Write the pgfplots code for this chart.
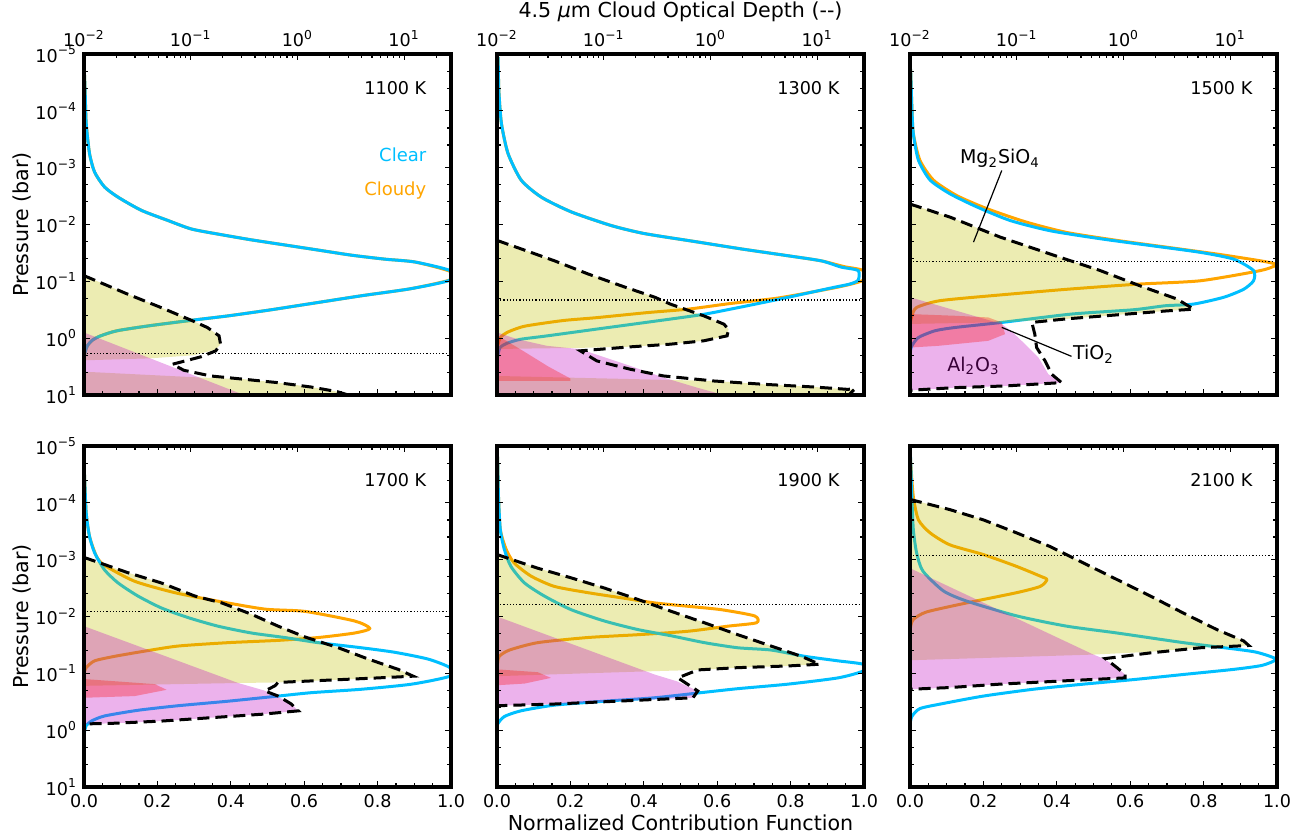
\documentclass[border=0pt]{standalone}
\usepackage{fontspec}
\setmainfont{DejaVu Sans}
\usepackage{pgfplots}
\pgfplotsset{compat=1.18}
\definecolor{clearc}{RGB}{0,191,255}
\definecolor{cloudc}{RGB}{255,165,0}
\definecolor{mgc}{rgb}{0.75,0.75,0}
\definecolor{alc}{rgb}{0.75,0,0.75}
\definecolor{tic}{rgb}{1,0,0}
\definecolor{altext}{rgb}{0.22,0,0.22}
\newcommand{\tfs}{\fontsize{8.8}{10.5}\selectfont}
\newcommand{\lfs}{\fontsize{10.3}{12}\selectfont}
\newcommand{\afs}{\fontsize{9.5}{11}\selectfont}
\pgfplotsset{
  base/.style={scale only axis, width=183.5pt, height=170.5pt, anchor=north west},
  main/.style={base, xmin=0, xmax=1, ymin=-5, ymax=1, y dir=reverse, axis on top,
    xtick={0,0.2,0.4,0.6,0.8,1}, minor x tick num=3, xtick pos=left, ytick pos=both,
    ytick={-5,-4,-3,-2,-1,0,1},
    minor ytick={-4.699,-4.398,-3.699,-3.398,-2.699,-2.398,-1.699,-1.398,-0.699,-0.398,0.301,0.602},
    xticklabels={}, yticklabels={},
    tick align=inside, major tick length=3pt, minor tick length=2pt,
    every tick/.append style={black, line width=0.6pt},
    axis line style={line width=2pt},
    tick label style={font=\tfs}},
  topax/.style={base, xmin=0.01, xmax=27.5, ymin=0, ymax=1, hide y axis,
    xtick pos=right, xticklabel pos=right, xtick={0.01,0.1,1,10},
    minor xtick={0.02,0.03,0.04,0.05,0.06,0.07,0.08,0.09,0.2,0.3,0.4,0.5,0.6,0.7,0.8,0.9,2,3,4,5,6,7,8,9,20},
    xticklabels={}, tick align=inside, major tick length=3pt, minor tick length=2pt,
    every tick/.append style={black, line width=0.6pt},
    axis line style={line width=2pt}, tick label style={font=\tfs}},
  ylabs/.style={yticklabels={10\textsuperscript{−5},10\textsuperscript{−4},10\textsuperscript{−3},10\textsuperscript{−2},10\textsuperscript{−1},10\textsuperscript{0},10\textsuperscript{1}},
     ylabel={Pressure (bar)}, ylabel style={at={(axis description cs:-0.169,0.5)}, anchor=center, font=\lfs}},
  xlabs/.style={xticklabels={0.0,0.2,0.4,0.6,0.8,1.0}},
  toplabs/.style={xticklabels={10\textsuperscript{−2},10\textsuperscript{−1},10\textsuperscript{0},10\textsuperscript{1}}},
  clr/.style={color=clearc, line width=1.5pt, line join=round, no marks, smooth, tension=0.4},
  cld/.style={color=cloudc, line width=1.5pt, line join=round, no marks, smooth, tension=0.4},
  tot/.style={black, line width=1.5pt, dash pattern=on 6pt off 3pt, no marks},
  dotl/.style={black, line width=0.6pt, dash pattern=on 0.6pt off 1pt, no marks},
  mgf/.style={draw=none, fill=mgc, fill opacity=0.3, no marks},
  alf/.style={draw=none, fill=alc, fill opacity=0.3, no marks},
  tif/.style={draw=none, fill=tic, fill opacity=0.3, no marks},
}
\begin{document}
\begin{tikzpicture}
\path[use as bounding box] (0,0) rectangle (654.5pt,-419pt);
% ---------------- Panel 1: 1100 K
\begin{axis}[main, ylabs, at={(42pt,-27pt)}]
\addplot[cld] coordinates {(0,-4.85) (0.001,-4.69) (0.003,-4.36) (0.006,-3.78) (0.015,-3.25) (0.029,-2.92) (0.056,-2.66) (0.093,-2.48) (0.156,-2.25) (0.229,-2.07) (0.293,-1.92) (0.375,-1.82) (0.456,-1.73) (0.547,-1.64) (0.638,-1.55) (0.729,-1.46) (0.82,-1.39) (0.902,-1.34) (1.0,-1.17) (1.0,-1.03) (0.89,-0.87) (0.76,-0.75) (0.62,-0.61) (0.50,-0.49) (0.39,-0.39) (0.30,-0.32) (0.18,-0.22) (0.09,-0.13) (0.045,-0.04) (0.023,0.035) (0.009,0.135) (0.003,0.25) (0,0.35)};
\addplot[clr] coordinates {(0,-4.85) (0.001,-4.69) (0.003,-4.36) (0.006,-3.78) (0.015,-3.25) (0.029,-2.92) (0.056,-2.66) (0.093,-2.48) (0.156,-2.25) (0.229,-2.07) (0.293,-1.92) (0.375,-1.82) (0.456,-1.73) (0.547,-1.64) (0.638,-1.55) (0.729,-1.46) (0.82,-1.39) (0.902,-1.34) (0.997,-1.19) (0.997,-1.02) (0.89,-0.87) (0.76,-0.75) (0.62,-0.61) (0.50,-0.49) (0.39,-0.39) (0.30,-0.32) (0.18,-0.22) (0.09,-0.13) (0.045,-0.04) (0.023,0.035) (0.009,0.135) (0.003,0.25) (0,0.35)};
\addplot[mgf] coordinates {(0,-1.10) (0.118,-0.777) (0.209,-0.541) (0.291,-0.318) (0.336,-0.188) (0.368,-0.041) (0.372,0.106) (0.359,0.20) (0.30,0.30) (0.18,0.355) (0,0.39)} --cycle;
\addplot[mgf] coordinates {(0,0.59) (0.31,0.69) (0.436,0.723) (0.527,0.782) (0.618,0.859) (0.69,0.941) (0.727,1.0) (0,1.0)} --cycle;
\addplot[alf] coordinates {(0,-0.10) (0.436,1.0) (0,1.0)} --cycle;
\addplot[tot] coordinates {(0,-1.10) (0.118,-0.777) (0.209,-0.541) (0.291,-0.318) (0.336,-0.188) (0.368,-0.041) (0.372,0.106) (0.359,0.223) (0.318,0.329) (0.241,0.459) (0.272,0.565) (0.345,0.665) (0.436,0.723) (0.527,0.782) (0.618,0.859) (0.69,0.941) (0.745,1.05)};
\addplot[dotl] coordinates {(0,0.27) (1,0.27)};
\node[anchor=east, font=\tfs] at (axis description cs:0.952,0.9) {1100 K};
\node[anchor=east, font=\fontsize{9}{11}\selectfont, text=clearc] at (axis description cs:0.952,0.703) {Clear};
\node[anchor=east, font=\fontsize{9}{11}\selectfont, text=cloudc] at (axis description cs:0.952,0.6) {Cloudy};
\end{axis}
\begin{semilogxaxis}[topax, toplabs, at={(42pt,-27pt)}]
\end{semilogxaxis}
% ---------------- Panel 2: 1300 K
\begin{axis}[main, at={(248.5pt,-27pt)}]
\addplot[cld] coordinates {(0.003,-4.95) (0.005,-4.36) (0.012,-3.78) (0.03,-3.25) (0.066,-2.78) (0.121,-2.48) (0.203,-2.22) (0.312,-1.98) (0.402,-1.84) (0.539,-1.70) (0.666,-1.57) (0.793,-1.45) (0.884,-1.36) (0.945,-1.26) (0.998,-1.19) (0.998,-1.02) (0.93,-0.9) (0.77,-0.71) (0.636,-0.61) (0.52,-0.51) (0.41,-0.45) (0.27,-0.36) (0.18,-0.31) (0.075,-0.21) (0.027,-0.1) (0.009,-0.01) (0.003,0.1) (0,0.2)};
\addplot[clr] coordinates {(0.003,-4.95) (0.005,-4.36) (0.012,-3.78) (0.03,-3.25) (0.066,-2.78) (0.121,-2.48) (0.203,-2.22) (0.312,-1.98) (0.402,-1.84) (0.539,-1.70) (0.666,-1.57) (0.793,-1.45) (0.884,-1.36) (0.938,-1.25) (0.984,-1.19) (0.984,-1.02) (0.96,-0.95) (0.908,-0.88) (0.772,-0.69) (0.636,-0.51) (0.554,-0.41) (0.409,-0.28) (0.272,-0.16) (0.136,-0.04) (0.064,0.02) (0.027,0.09) (0.009,0.16) (0.003,0.28) (0,0.4)};
\addplot[mgf] coordinates {(0,-1.72) (0.066,-1.57) (0.157,-1.36) (0.248,-1.13) (0.339,-0.92) (0.43,-0.72) (0.472,-0.6) (0.563,-0.394) (0.618,-0.247) (0.631,-0.159) (0.627,-0.041) (0.563,0.047) (0.472,0.106) (0.363,0.15) (0.23,0.17) (0,0.19)} --cycle;
\addplot[mgf] coordinates {(0,0.665) (0.59,0.753) (0.727,0.812) (0.863,0.859) (0.954,0.9) (0.97,0.9) (0.955,1.0) (0,1.0)} --cycle;
\addplot[alf] coordinates {(0,-0.1) (0.055,0.017) (0.136,0.135) (0.227,0.194) (0.363,0.488) (0.454,0.694) (0.545,0.87) (0.618,1.0) (0,1.0)} --cycle;
\addplot[tif] coordinates {(0,-0.05) (0.07,0.22) (0.14,0.5) (0.2,0.71) (0.2,0.753) (0,0.753)} --cycle;
\addplot[tot] coordinates {(0,-1.72) (0.066,-1.57) (0.157,-1.36) (0.248,-1.13) (0.339,-0.92) (0.43,-0.72) (0.472,-0.6) (0.563,-0.394) (0.618,-0.247) (0.631,-0.159) (0.627,-0.041) (0.563,0.047) (0.472,0.106) (0.363,0.153) (0.227,0.223) (0.272,0.4) (0.363,0.547) (0.454,0.665) (0.59,0.753) (0.727,0.812) (0.863,0.859) (0.954,0.9) (0.975,0.895) (0.95,1.05)};
\addplot[dotl] coordinates {(0,-0.67) (1,-0.67)};
\node[anchor=east, font=\tfs] at (axis description cs:0.952,0.9) {1300 K};
\end{axis}
\begin{semilogxaxis}[topax, toplabs, at={(248.5pt,-27pt)}, xlabel={4.5 \textit{μ}m Cloud Optical Depth (-{}-)}, xlabel style={at={(axis description cs:0.5,1.124)}, anchor=center, font=\lfs}]
\end{semilogxaxis}
% ---------------- Panel 3: 1500 K
\begin{axis}[main, at={(455pt,-27pt)}]
\addplot[cld] coordinates {(0,-4.85) (0.002,-4.66) (0.005,-4.07) (0.009,-3.6) (0.027,-3.13) (0.064,-2.78) (0.127,-2.51) (0.209,-2.28) (0.318,-2.04) (0.427,-1.86) (0.564,-1.72) (0.7,-1.6) (0.836,-1.48) (0.927,-1.39) (0.973,-1.34) (0.998,-1.29) (0.955,-1.19) (0.791,-1.01) (0.62,-0.95) (0.427,-0.86) (0.245,-0.76) (0.082,-0.66) (0.018,-0.54) (0.005,-0.39) (0,-0.25)};
\addplot[clr] coordinates {(0,-4.85) (0.002,-4.66) (0.005,-4.07) (0.009,-3.6) (0.023,-3.13) (0.055,-2.78) (0.109,-2.54) (0.182,-2.31) (0.273,-2.07) (0.382,-1.89) (0.518,-1.75) (0.655,-1.63) (0.791,-1.51) (0.882,-1.39) (0.936,-1.19) (0.936,-1.01) (0.909,-0.86) (0.855,-0.72) (0.773,-0.6) (0.695,-0.57) (0.609,-0.5) (0.44,-0.424) (0.25,-0.277) (0.123,-0.188) (0.068,-0.13) (0.023,-0.012) (0.005,0.135) (0,0.25)};
\addplot[mgf] coordinates {(0,-2.36) (0.109,-2.13) (0.245,-1.78) (0.382,-1.48) (0.518,-1.19) (0.627,-0.92) (0.727,-0.69) (0.773,-0.51) (0.7,-0.48) (0.564,-0.41) (0.427,-0.34) (0.25,-0.28) (0,-0.25)} --cycle;
\addplot[alf] coordinates {(0,-0.72) (0.25,-0.25) (0.28,-0.1) (0.304,0.047) (0.35,0.341) (0.377,0.635) (0.413,0.782) (0.259,0.841) (0.123,0.87) (0,0.917)} --cycle;
\addplot[tif] coordinates {(0,-0.424) (0.123,-0.394) (0.213,-0.365) (0.25,-0.277) (0.259,-0.071) (0.213,0.047) (0.077,0.135) (0,0.165)} --cycle;
\addplot[tot] coordinates {(0,-2.36) (0.109,-2.13) (0.245,-1.78) (0.382,-1.48) (0.518,-1.19) (0.627,-0.92) (0.727,-0.69) (0.773,-0.51) (0.7,-0.48) (0.564,-0.41) (0.427,-0.34) (0.332,-0.277) (0.34,-0.071) (0.345,0.165) (0.368,0.4) (0.386,0.635) (0.413,0.782) (0.259,0.841) (0.123,0.87) (0,0.917)};
\addplot[dotl] coordinates {(0,-1.35) (1,-1.35)};
\node[anchor=east, font=\tfs] at (axis description cs:0.952,0.9) {1500 K};
\node[font=\afs] at (axis cs:0.245,-3.16) {Mg\textsubscript{2}SiO\textsubscript{4}};
\draw[black, line width=0.6pt] (axis cs:0.25,-2.95) -- (axis cs:0.173,-1.69);
\node[font=\afs] at (axis cs:0.5,0.28) {TiO\textsubscript{2}};
\draw[black, line width=0.6pt] (axis cs:0.44,0.32) -- (axis cs:0.25,-0.19);
\node[font=\afs, text=altext] at (axis cs:0.173,0.49) {Al\textsubscript{2}O\textsubscript{3}};
\end{axis}
\begin{semilogxaxis}[topax, toplabs, at={(455pt,-27pt)}]
\end{semilogxaxis}
% ---------------- Panel 4: 1700 K
\begin{axis}[main, ylabs, xlabs, at={(42pt,-223pt)}]
\addplot[cld] coordinates {(0,-4.7) (0.002,-4.4) (0.006,-3.82) (0.015,-3.41) (0.034,-3.06) (0.056,-2.9) (0.138,-2.62) (0.247,-2.42) (0.365,-2.27) (0.493,-2.13) (0.602,-2.09) (0.738,-1.92) (0.779,-1.79) (0.738,-1.71) (0.638,-1.63) (0.529,-1.58) (0.393,-1.54) (0.256,-1.48) (0.165,-1.39) (0.084,-1.3) (0.029,-1.22) (0.006,-1.1) (0,-1.0)};
\addplot[clr] coordinates {(0,-4.7) (0.002,-4.4) (0.006,-3.82) (0.015,-3.41) (0.029,-3.12) (0.056,-2.82) (0.093,-2.59) (0.147,-2.36) (0.211,-2.15) (0.284,-1.98) (0.365,-1.83) (0.456,-1.71) (0.547,-1.63) (0.638,-1.54) (0.756,-1.45) (0.847,-1.37) (0.938,-1.25) (0.997,-1.1) (0.997,-0.95) (0.893,-0.81) (0.756,-0.72) (0.62,-0.66) (0.529,-0.6) (0.393,-0.51) (0.256,-0.43) (0.147,-0.35) (0.056,-0.25) (0.02,-0.16) (0.006,-0.08) (0.002,0.01) (0,0.1)};
\addplot[mgf] coordinates {(0,-3.04) (0.12,-2.77) (0.211,-2.59) (0.302,-2.36) (0.375,-2.24) (0.456,-2.04) (0.529,-1.83) (0.602,-1.64) (0.693,-1.45) (0.775,-1.25) (0.856,-1.07) (0.897,-0.95) (0.802,-0.92) (0.665,-0.88) (0.529,-0.84) (0.42,-0.83) (0,-0.78)} --cycle;
\addplot[alf] coordinates {(0,-1.83) (0.42,-0.83) (0.49,-0.7) (0.525,-0.6) (0.565,-0.46) (0.584,-0.34) (0.484,-0.28) (0.347,-0.22) (0.211,-0.16) (0.075,-0.12) (0,-0.11)} --cycle;
\addplot[tif] coordinates {(0,-0.9) (0.193,-0.81) (0.225,-0.71) (0.138,-0.6) (0,-0.57)} --cycle;
\addplot[tot] coordinates {(0,-3.04) (0.12,-2.77) (0.211,-2.59) (0.302,-2.36) (0.375,-2.24) (0.456,-2.04) (0.529,-1.83) (0.602,-1.64) (0.693,-1.45) (0.775,-1.25) (0.856,-1.07) (0.897,-0.95) (0.802,-0.92) (0.665,-0.88) (0.529,-0.84) (0.52,-0.78) (0.493,-0.69) (0.529,-0.6) (0.565,-0.46) (0.584,-0.34) (0.484,-0.28) (0.347,-0.22) (0.211,-0.16) (0.075,-0.12) (0,-0.11)};
\addplot[dotl] coordinates {(0,-2.09) (1,-2.09)};
\node[anchor=east, font=\tfs] at (axis description cs:0.952,0.9) {1700 K};
\end{axis}
\begin{semilogxaxis}[topax, at={(42pt,-223pt)}]
\end{semilogxaxis}
% ---------------- Panel 5: 1900 K
\begin{axis}[main, xlabs, at={(248.5pt,-223pt)}, xlabel={Normalized Contribution Function}, xlabel style={at={(axis description cs:0.5,-0.106)}, anchor=center, font=\lfs}]
\addplot[cld] coordinates {(0,-5) (0.002,-4.7) (0.004,-4.11) (0.009,-3.53) (0.025,-3.18) (0.047,-2.94) (0.093,-2.71) (0.156,-2.53) (0.247,-2.42) (0.338,-2.33) (0.429,-2.24) (0.52,-2.18) (0.611,-2.12) (0.702,-2.01) (0.707,-1.89) (0.629,-1.83) (0.52,-1.74) (0.384,-1.68) (0.247,-1.63) (0.111,-1.54) (0.034,-1.41) (0.006,-1.3) (0.002,-1.19) (0,-1.1)};
\addplot[clr] coordinates {(0,-5) (0.002,-4.7) (0.004,-4.11) (0.009,-3.53) (0.02,-3.18) (0.038,-2.88) (0.075,-2.59) (0.129,-2.36) (0.202,-2.12) (0.293,-1.92) (0.384,-1.77) (0.475,-1.66) (0.565,-1.54) (0.656,-1.45) (0.747,-1.41) (0.838,-1.3) (0.929,-1.22) (0.997,-1.16) (0.997,-1.04) (0.929,-0.92) (0.793,-0.81) (0.656,-0.73) (0.556,-0.66) (0.429,-0.57) (0.293,-0.51) (0.156,-0.44) (0.065,-0.34) (0.02,-0.24) (0.002,-0.11) (0,0)};
\addplot[mgf] coordinates {(0,-3.09) (0.111,-2.85) (0.202,-2.68) (0.293,-2.5) (0.384,-2.3) (0.475,-2.09) (0.565,-1.89) (0.656,-1.68) (0.747,-1.48) (0.829,-1.3) (0.879,-1.16) (0.793,-1.13) (0.656,-1.1) (0.547,-1.06) (0.384,-1.03) (0,-0.95)} --cycle;
\addplot[alf] coordinates {(0,-2.0) (0.429,-0.98) (0.49,-0.86) (0.547,-0.69) (0.534,-0.57) (0.429,-0.54) (0.293,-0.5) (0.156,-0.46) (0,-0.43)} --cycle;
\addplot[tif] coordinates {(0,-1.07) (0.111,-1.02) (0.147,-0.92) (0.075,-0.82) (0,-0.79)} --cycle;
\addplot[tot] coordinates {(0,-3.09) (0.111,-2.85) (0.202,-2.68) (0.293,-2.5) (0.384,-2.3) (0.475,-2.09) (0.565,-1.89) (0.656,-1.68) (0.747,-1.48) (0.829,-1.3) (0.879,-1.16) (0.793,-1.13) (0.656,-1.1) (0.547,-1.06) (0.493,-0.92) (0.547,-0.69) (0.534,-0.57) (0.429,-0.54) (0.293,-0.5) (0.156,-0.46) (0,-0.43)};
\addplot[dotl] coordinates {(0,-2.21) (1,-2.21)};
\node[anchor=east, font=\tfs] at (axis description cs:0.952,0.9) {1900 K};
\end{axis}
\begin{semilogxaxis}[topax, at={(248.5pt,-223pt)}]
\end{semilogxaxis}
% ---------------- Panel 6: 2100 K
\begin{axis}[main, xlabs, at={(455pt,-223pt)}]
\addplot[cld] coordinates {(0,-5) (0.002,-4.7) (0.009,-4.11) (0.023,-3.7) (0.055,-3.47) (0.109,-3.26) (0.2,-3.09) (0.291,-2.88) (0.355,-2.71) (0.373,-2.65) (0.355,-2.53) (0.291,-2.42) (0.155,-2.24) (0.045,-2.08) (0.009,-1.95) (0.002,-1.83) (0,-1.7)};
\addplot[clr] coordinates {(0,-5) (0.002,-4.7) (0.005,-4.11) (0.009,-3.53) (0.018,-3.12) (0.035,-2.8) (0.091,-2.45) (0.155,-2.27) (0.291,-2.01) (0.427,-1.83) (0.564,-1.71) (0.745,-1.54) (0.882,-1.43) (0.945,-1.37) (0.997,-1.25) (0.959,-1.14) (0.882,-1.07) (0.745,-0.98) (0.609,-0.89) (0.473,-0.81) (0.336,-0.72) (0.2,-0.6) (0.091,-0.47) (0.027,-0.38) (0.005,-0.24) (0,-0.1)};
\addplot[mgf] coordinates {(0,-4.06) (0.109,-3.88) (0.2,-3.7) (0.291,-3.47) (0.382,-3.23) (0.473,-2.94) (0.564,-2.65) (0.655,-2.36) (0.745,-2.06) (0.836,-1.77) (0.909,-1.57) (0.923,-1.49) (0.791,-1.45) (0.655,-1.38) (0.5,-1.33) (0,-1.23)} --cycle;
\addplot[alf] coordinates {(0,-2.85) (0.5,-1.33) (0.53,-1.25) (0.564,-1.1) (0.586,-0.98) (0.586,-0.92) (0.427,-0.87) (0.245,-0.81) (0.109,-0.75) (0,-0.72)} --cycle;
\addplot[tot] coordinates {(0,-4.06) (0.109,-3.88) (0.2,-3.7) (0.291,-3.47) (0.382,-3.23) (0.473,-2.94) (0.564,-2.65) (0.655,-2.36) (0.745,-2.06) (0.836,-1.77) (0.909,-1.57) (0.923,-1.49) (0.791,-1.45) (0.655,-1.36) (0.532,-1.26) (0.564,-1.1) (0.586,-0.98) (0.586,-0.92) (0.427,-0.87) (0.245,-0.81) (0.109,-0.75) (0,-0.72)};
\addplot[dotl] coordinates {(0,-3.07) (1,-3.07)};
\node[anchor=east, font=\tfs] at (axis description cs:0.952,0.9) {2100 K};
\end{axis}
\begin{semilogxaxis}[topax, at={(455pt,-223pt)}]
\end{semilogxaxis}
\end{tikzpicture}
\end{document}
